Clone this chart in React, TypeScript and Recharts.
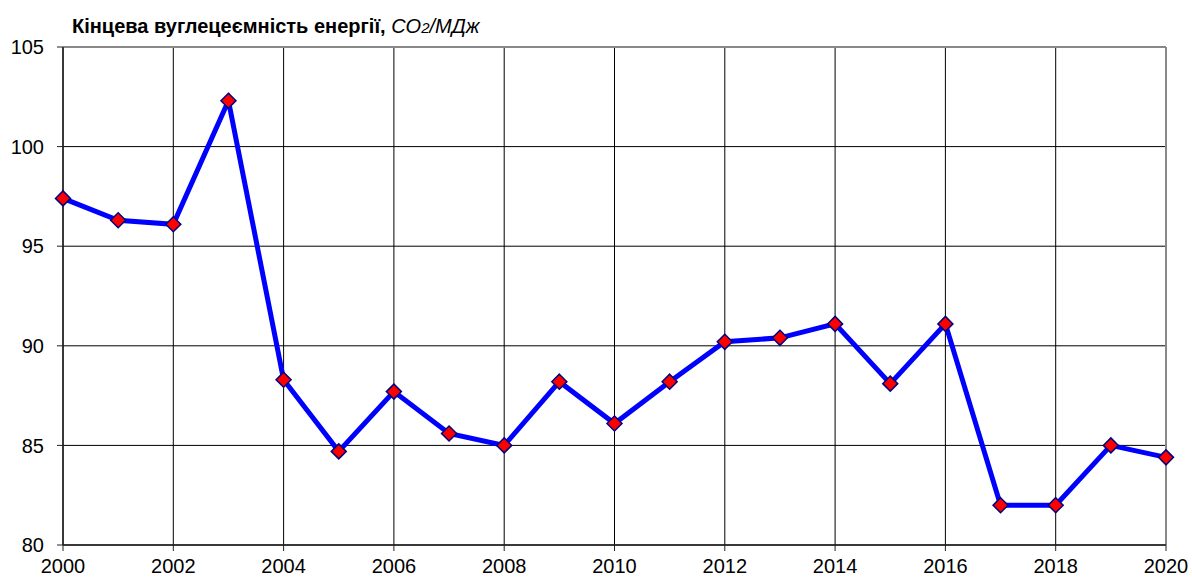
import React from "react";
import { LineChart, Line, XAxis, YAxis, CartesianGrid, ReferenceLine } from "recharts";

const years = [2000, 2001, 2002, 2003, 2004, 2005, 2006, 2007, 2008, 2009, 2010, 2011, 2012, 2013, 2014, 2015, 2016, 2017, 2018, 2019, 2020];
const intensity = [97.4, 96.3, 96.1, 102.3, 88.3, 84.7, 87.7, 85.6, 85.0, 88.2, 86.1, 88.2, 90.2, 90.4, 91.1, 88.1, 91.1, 82.0, 82.0, 85.0, 84.4];
const xTicks = [2000, 2002, 2004, 2006, 2008, 2010, 2012, 2014, 2016, 2018, 2020];
const yTicks = [80, 85, 90, 95, 100, 105];

const data = years.map((y, i) => ({ year: y, value: intensity[i] }));

const Diamond = (props: any) => {
  const { cx, cy } = props;
  if (cx == null || cy == null) return null;
  const r = 7.5;
  return (
    <polygon
      points={`${cx},${cy - r} ${cx + r},${cy} ${cx},${cy + r} ${cx - r},${cy}`}
      fill="#FF0000"
      stroke="#000080"
      strokeWidth={1.5}
    />
  );
};

const font = "'Liberation Sans', Arial, sans-serif";

export default function App() {
  return (
    <div style={{ position: "absolute", left: 0, top: 0, width: 1192, height: 580, background: "#fff" }}>
      <div
        style={{
          position: "absolute",
          left: 72,
          top: 16,
          fontFamily: font,
          fontSize: 20,
          lineHeight: "20px",
          fontWeight: "bold",
          color: "#000",
          whiteSpace: "nowrap",
        }}
      >
        Кінцева вуглецеємність енергії,{" "}
        <span style={{ fontStyle: "italic", fontWeight: "normal" }}>
          CO<span style={{ fontSize: 15 }}>2</span>/МДж
        </span>
      </div>
      <LineChart
        width={1192}
        height={580}
        data={data}
        margin={{ top: 47, right: 26, bottom: 0, left: 8 }}
      >
        <CartesianGrid stroke="#000" strokeWidth={1} />
        <XAxis
          dataKey="year"
          type="number"
          domain={[2000, 2020]}
          ticks={xTicks}
          interval={0}
          height={35}
          tickSize={6}
          tickMargin={8}
          axisLine={{ stroke: "#222", strokeWidth: 1.5 }}
          tickLine={{ stroke: "#222" }}
          tick={{ fill: "#000", fontSize: 20, fontFamily: font }}
        />
        <YAxis
          type="number"
          domain={[80, 105]}
          ticks={yTicks}
          interval={0}
          width={55}
          tickSize={6}
          tickMargin={13}
          axisLine={{ stroke: "#222", strokeWidth: 1.5 }}
          tickLine={{ stroke: "#222" }}
          tick={{ fill: "#000", fontSize: 20, fontFamily: font }}
        />
        <ReferenceLine y={105} stroke="#888" strokeWidth={2} />
        <ReferenceLine x={2020} stroke="#888" strokeWidth={2} />
        <Line
          type="linear"
          dataKey="value"
          stroke="#0000FF"
          strokeWidth={5}
          dot={<Diamond />}
          activeDot={false}
          isAnimationActive={false}
        />
      </LineChart>
    </div>
  );
}
